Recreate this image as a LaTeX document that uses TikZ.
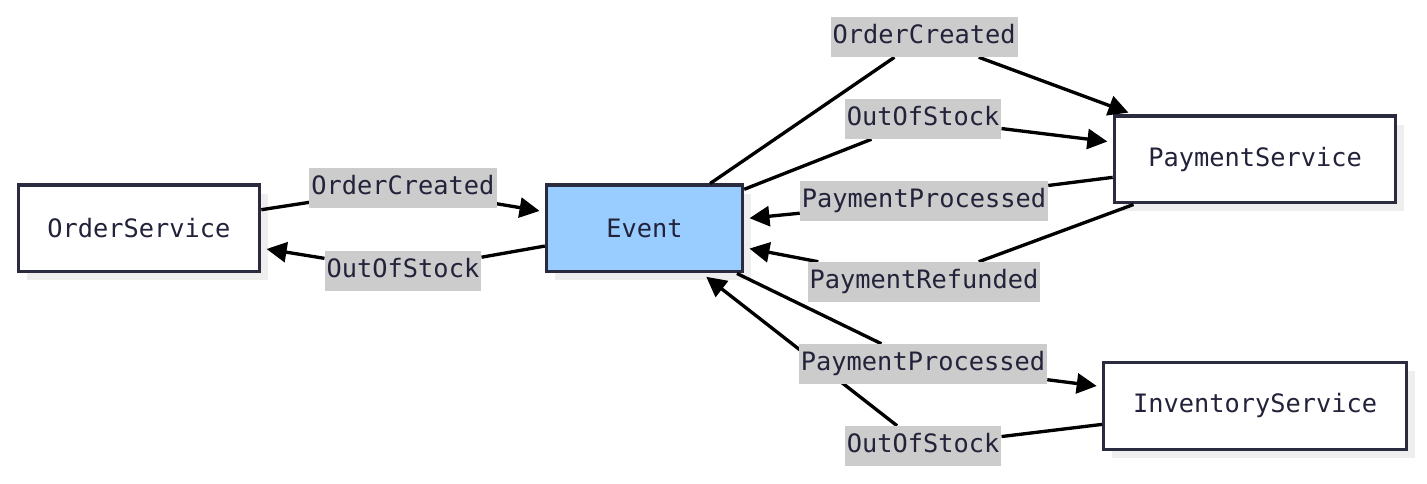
\documentclass[tikz,border=0pt]{standalone}
\usepackage{fontspec}
\setmonofont{DejaVu Sans Mono}
\usetikzlibrary{arrows.meta,shadows}

\definecolor{borde}{HTML}{2B2B40}
\definecolor{azul}{HTML}{99CCFF}
\definecolor{etiq}{HTML}{CCCCCC}
\definecolor{sombra}{HTML}{EEEEEE}
\definecolor{texto}{HTML}{22223A}

\pgfdeclarelayer{frente}
\pgfsetlayers{main,frente}

\tikzset{
	servicio/.style={draw=borde, line width=2.5pt, fill=white, text=texto,
		minimum height=65pt, inner sep=0pt,
		drop shadow={shadow xshift=6.5pt, shadow yshift=-6.5pt, fill=sombra, opacity=1}},
	etiqueta/.style={fill=etiq, text=texto, inner xsep=1.5pt, inner ysep=0pt,
		minimum height=30pt, text height=14pt, text depth=4pt},
	flecha/.style={draw=black, line width=2.5pt, -{Triangle[length=15pt,width=15pt]}, shorten >=4pt}
}

\begin{document}
\begin{tikzpicture}[x=0.75pt, y=-0.75pt, font=\ttfamily\fontsize{19}{22}\selectfont]
\useasboundingbox (0,0) rectangle (1427,484);

% Servicios
\node[servicio, minimum width=181pt] (os) at (139,228.5) {OrderService};
\node[servicio, minimum width=147pt, fill=azul] (ev) at (644.5,228.5) {Event};
\node[servicio, minimum width=211pt] (ps) at (1255,159.5) {PaymentService};
\node[servicio, minimum width=227pt] (is) at (1255,406) {InventoryService};

% Mensajes
\foreach \de/\a/\x/\y/\txt [count=\i] in {
		os/ev/403/188/OrderCreated,
		ev/os/403/271/OutOfStock,
		ev/ps/924/37/OrderCreated,
		ev/ps/923/119/OutOfStock,
		ps/ev/924/201/PaymentProcessed,
		ps/ev/924/282/PaymentRefunded,
		ev/is/923/364/PaymentProcessed,
		is/ev/923/446/OutOfStock}
{
	\begin{pgfonlayer}{frente}
		\node[etiqueta] (e\i) at (\x,\y) {\txt};
	\end{pgfonlayer}
	\draw[flecha] (\de) -- (e\i) -- (\a);
}
\end{tikzpicture}
\end{document}
